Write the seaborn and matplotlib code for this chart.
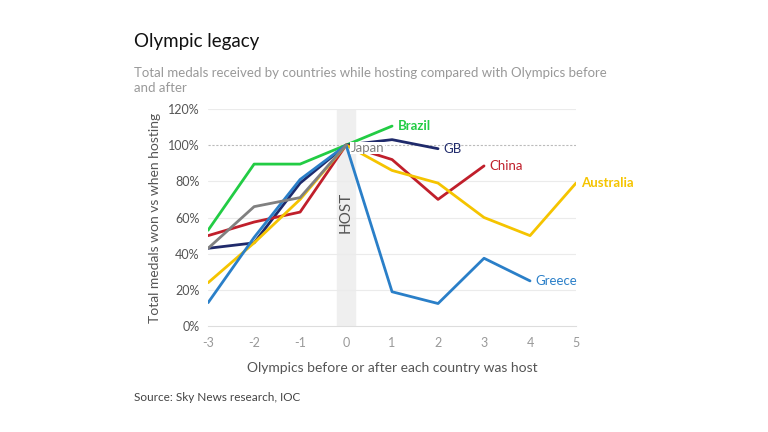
import numpy as np
import pandas as pd
import matplotlib.pyplot as plt
import seaborn as sns

# Olympics relative to hosting (0 = host year)
offsets = [-3, -2, -1, 0, 1, 2, 3, 4, 5]

# medals as % of host-year total (None = no data)
brazil = [53, 89.5, 89.5, 100, 110.5, None, None, None, None]
gb = [43, 46, 79, 100, 103, 98, None, None, None]
china = [50, 57.5, 63, 100, 92, 70, 88.5, None, None]
australia = [24, 46, 70, 100, 86, 79, 60, 50, 79]
greece = [13, 49, 81, 100, 19, 12.5, 37.5, 25, None]
japan = [43, 66, 71, 100, None, None, None, None, None]

countries = ['Brazil', 'GB', 'China', 'Australia', 'Greece', 'Japan']
series = [brazil, gb, china, australia, greece, japan]
colors = ['#22cc44', '#1f2a6b', '#c01f2b', '#f5c400', '#2a7fc8', '#808080']

rows = []
for name, vals in zip(countries, series):
    for x, v in zip(offsets, vals):
        if v is not None:
            rows.append({'offset': x, 'pct': v, 'country': name})
df = pd.DataFrame(rows)

sns.set_style('white')
plt.rcParams['font.family'] = ['Lato', 'DejaVu Sans']
plt.rcParams['axes.unicode_minus'] = False

fig = plt.figure(figsize=(7.68, 4.32), dpi=100)
ax = fig.add_axes([0.271, 0.245, 0.479, 0.503])

# host band and reference line
ax.axvspan(-0.2, 0.2, color='#efefef', zorder=0)
for yv in range(20, 121, 20):
    if yv != 100:
        ax.axhline(yv, color='#ebebeb', lw=0.8, zorder=0)
ax.axhline(100, color='#bbbbbb', lw=0.8, ls=(0, (2, 1.5)), zorder=0)

sns.lineplot(data=df, x='offset', y='pct', hue='country', hue_order=countries,
             palette=dict(zip(countries, colors)), lw=2, legend=False, ax=ax,
             sort=True, estimator=None)

# end labels
ax.text(1.12, 110.5, 'Brazil', color=colors[0], fontsize=9.5, fontweight='bold', va='center')
ax.text(2.12, 98, 'GB', color=colors[1], fontsize=9.5, va='center')
ax.text(3.12, 88.5, 'China', color=colors[2], fontsize=9.5, va='center')
ax.text(5.12, 79, 'Australia', color=colors[3], fontsize=9.5, fontweight='bold', va='center')
ax.text(4.12, 25, 'Greece', color=colors[4], fontsize=9.5, va='center')
ax.text(0.1, 98.3, 'Japan', color=colors[5], fontsize=9.5, va='center',
        bbox=dict(facecolor='white', edgecolor='none', pad=0.2), zorder=5)
ax.text(0, 63, 'HOST', rotation=90, color='#555555', fontsize=11, ha='center', va='center')

ax.set_xlim(-3, 5)
ax.set_ylim(0, 120)
ax.set_xticks(offsets)
ax.set_yticks(range(0, 121, 20))
ax.set_yticklabels([f'{v}%' for v in range(0, 121, 20)])
ax.tick_params(axis='x', colors='#999999', labelsize=9, length=4, color='#cccccc')
ax.tick_params(axis='y', colors='#555555', labelsize=9, length=0, pad=6)
for s in ['top', 'right', 'left']:
    ax.spines[s].set_visible(False)
ax.spines['bottom'].set_color('#dddddd')

ax.set_xlabel('Olympics before or after each country was host', color='#555555', fontsize=10, labelpad=10)
ax.set_ylabel('Total medals won vs when hosting', color='#555555', fontsize=10, labelpad=5)

fig.text(0.174, 0.903, 'Olympic legacy', fontsize=13.5, color='#111111', va='center')
fig.text(0.174, 0.832, 'Total medals received by countries while hosting compared with Olympics before',
         fontsize=9.5, color='#999999', va='center')
fig.text(0.174, 0.797, 'and after', fontsize=9.5, color='#999999', va='center')
fig.text(0.174, 0.079, 'Source: Sky News research, IOC', fontsize=8.5, color='#444444', va='center')

fig.savefig('out.png', dpi=100)
